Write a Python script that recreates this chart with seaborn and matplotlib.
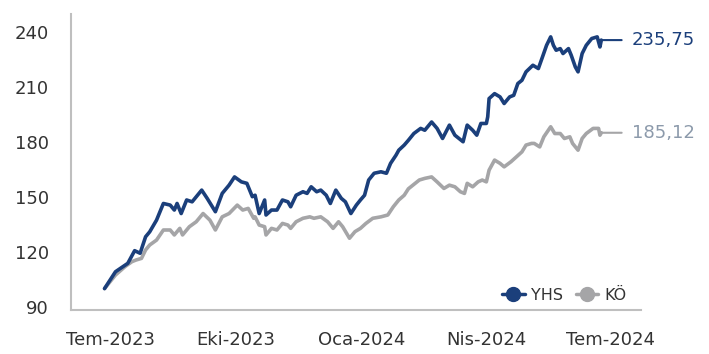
import matplotlib
matplotlib.use("Agg")
import matplotlib.pyplot as plt
from matplotlib.lines import Line2D
import numpy as np
import pandas as pd
import seaborn as sns

# ---- data ----
yhs_dates = ["2023-06-27", "2023-07-05", "2023-07-14", "2023-07-19", "2023-07-23", "2023-07-27",
             "2023-07-30", "2023-08-04", "2023-08-09", "2023-08-14", "2023-08-17", "2023-08-19",
             "2023-08-22", "2023-08-26", "2023-08-30", "2023-09-06", "2023-09-10", "2023-09-16",
             "2023-09-21", "2023-09-26", "2023-09-30", "2023-10-05", "2023-10-09", "2023-10-13",
             "2023-10-15", "2023-10-18", "2023-10-22", "2023-10-23", "2023-10-27", "2023-10-31",
             "2023-11-04", "2023-11-08", "2023-11-10", "2023-11-14", "2023-11-19", "2023-11-22",
             "2023-11-25", "2023-11-29", "2023-12-02", "2023-12-06", "2023-12-09", "2023-12-13",
             "2023-12-17", "2023-12-20", "2023-12-24", "2023-12-28", "2023-12-31", "2024-01-03",
             "2024-01-06", "2024-01-10", "2024-01-15", "2024-01-19", "2024-01-22", "2024-01-26",
             "2024-01-28", "2024-02-01", "2024-02-04", "2024-02-08", "2024-02-13", "2024-02-16",
             "2024-02-21", "2024-02-25", "2024-02-29", "2024-03-05", "2024-03-09", "2024-03-15",
             "2024-03-18", "2024-03-22", "2024-03-25", "2024-03-28", "2024-04-01", "2024-04-02",
             "2024-04-03", "2024-04-07", "2024-04-11", "2024-04-14", "2024-04-18", "2024-04-21",
             "2024-04-24", "2024-04-27", "2024-04-30", "2024-05-05", "2024-05-09", "2024-05-12",
             "2024-05-15", "2024-05-18", "2024-05-20", "2024-05-22", "2024-05-25", "2024-05-27",
             "2024-05-31", "2024-06-02", "2024-06-05", "2024-06-07", "2024-06-10", "2024-06-13",
             "2024-06-17", "2024-06-21", "2024-06-23", "2024-06-24"]
yhs_values = [100, 109.2, 113.8, 120.7, 119.3, 128.3,
              131, 137.4, 146.5, 145.6, 142.9, 146.5,
              141, 148.4, 147.4, 153.8, 149.3, 142,
              152, 156.5, 161, 158.3, 157.5, 150.2,
              151, 141, 148.4, 140.2, 142.9, 142.9,
              148.4, 147.4, 144.7, 151, 152.9, 152,
              155.6, 152.9, 153.8, 151, 146.5, 153.8,
              149.3, 147.4, 141, 145.6, 148.4, 151,
              159.3, 163, 163.8, 163, 168.4, 172.9,
              175.6, 178.4, 181, 184.7, 187.5, 186.5,
              191, 187.5, 182, 189.3, 183.8, 180.2,
              189.3, 186.5, 183.8, 190.2, 190.2, 193.8,
              203.8, 206.5, 204.7, 201.1, 204.7, 205.6,
              212, 213.8, 218.4, 222, 220.2, 226.5,
              232.9, 237.5, 232.9, 230.2, 231.1, 228.4,
              231.1, 227.5, 221.1, 218.4, 228.4, 232.9,
              236.6, 237.5, 232, 235.75]

ko_dates = ["2023-06-27", "2023-07-05", "2023-07-12", "2023-07-17", "2023-07-20", "2023-07-24",
            "2023-07-27", "2023-07-30", "2023-08-04", "2023-08-09", "2023-08-14", "2023-08-17",
            "2023-08-21", "2023-08-23", "2023-08-28", "2023-09-02", "2023-09-07", "2023-09-12",
            "2023-09-16", "2023-09-21", "2023-09-26", "2023-10-02", "2023-10-06", "2023-10-10",
            "2023-10-14", "2023-10-15", "2023-10-18", "2023-10-22", "2023-10-23", "2023-10-27",
            "2023-10-31", "2023-11-04", "2023-11-08", "2023-11-10", "2023-11-14", "2023-11-19",
            "2023-11-24", "2023-11-27", "2023-12-02", "2023-12-07", "2023-12-11", "2023-12-15",
            "2023-12-18", "2023-12-23", "2023-12-27", "2023-12-31", "2024-01-04", "2024-01-09",
            "2024-01-15", "2024-01-20", "2024-01-24", "2024-01-28", "2024-02-01", "2024-02-04",
            "2024-02-12", "2024-02-16", "2024-02-21", "2024-02-25", "2024-03-01", "2024-03-05",
            "2024-03-09", "2024-03-13", "2024-03-16", "2024-03-18", "2024-03-22", "2024-03-26",
            "2024-03-29", "2024-04-01", "2024-04-03", "2024-04-07", "2024-04-11", "2024-04-14",
            "2024-04-19", "2024-04-23", "2024-04-27", "2024-04-30", "2024-05-04", "2024-05-06",
            "2024-05-10", "2024-05-13", "2024-05-18", "2024-05-21", "2024-05-25", "2024-05-28",
            "2024-06-01", "2024-06-03", "2024-06-07", "2024-06-10", "2024-06-13", "2024-06-18",
            "2024-06-22", "2024-06-23", "2024-06-24"]
ko_values = [100, 107.4, 112, 114.7, 115.6, 116.5,
             121.1, 123.8, 126.5, 132, 132, 129.3,
             132.9, 129.3, 133.8, 136.5, 141, 137.4,
             132, 139.2, 141, 145.6, 142.9, 143.8,
             138.4, 139.2, 134.7, 133.8, 129.3, 132.9,
             132, 135.6, 134.7, 132.9, 136.5, 138.4,
             139.2, 138.4, 139.2, 136.5, 132.9, 136.5,
             133.8, 127.5, 131.1, 132.9, 135.6, 138.4,
             139.2, 140.2, 144.7, 148.4, 151, 154.5,
             159.3, 160.2, 161, 158.3, 154.7, 156.5,
             155.6, 152.9, 152, 157.5, 155.6, 158.3,
             159.3, 158.3, 164.7, 170.2, 168.4, 166.5,
             169.3, 172, 174.7, 178.4, 179.3, 179.3,
             177.4, 182.9, 188.4, 184.7, 184.7, 182,
             182.9, 179.3, 175.6, 182, 184.7, 187.5,
             187.5, 183.8, 185.12]

series_names = ["YHS", "KÖ"]
end_labels = ["235,75", "185,12"]
y_ticks = [90, 120, 150, 180, 210, 240]
x_tick_dates = ["2023-07-01", "2023-10-01", "2024-01-01", "2024-04-01", "2024-07-01"]
x_tick_labels = ["Tem-2023", "Eki-2023", "Oca-2024", "Nis-2024", "Tem-2024"]

# ---- styling ----
BLUE = "#1B3F7B"
GRAY = "#A5A5A7"
LABEL_GRAY = "#8C9AAB"
AXIS_GRAY = "#BFBFBF"
TEXT = "#333333"

sns.set_theme(style="white")
plt.rcParams["font.family"] = ["DejaVu Sans"]

df = pd.concat([
    pd.DataFrame({"date": pd.to_datetime(yhs_dates), "value": yhs_values, "series": series_names[0]}),
    pd.DataFrame({"date": pd.to_datetime(ko_dates), "value": ko_values, "series": series_names[1]}),
])

fig = plt.figure(figsize=(7.09, 3.54), dpi=100)
ax = fig.add_axes([71 / 709, 1 - 310 / 354, (641 - 71) / 709, (310 - 14) / 354])

palette = {series_names[0]: BLUE, series_names[1]: GRAY}
for name in [series_names[1], series_names[0]]:
    sub = df[df["series"] == name]
    sns.lineplot(data=sub, x="date", y="value", color=palette[name], lw=2.6,
                 ax=ax, legend=False, solid_joinstyle="round", solid_capstyle="round")

ax.set_xlim(pd.Timestamp("2023-06-02 12:00"), pd.Timestamp("2024-07-23"))
ax.set_ylim(88.3, 250)
ax.set_xlabel("")
ax.set_ylabel("")

ax.set_yticks(y_ticks)
ax.set_yticks(np.arange(90, 251, 10), minor=True)
major_x = pd.to_datetime(x_tick_dates)
ax.set_xticks(major_x)
ax.set_xticklabels(x_tick_labels)
minor_x = []
for a, b in zip(major_x[:-1], major_x[1:]):
    step = (b - a) / 5
    minor_x += [a + step * k for k in range(1, 5)]
step0 = (major_x[1] - major_x[0]) / 5
minor_x = [major_x[0] - step0] + minor_x + [major_x[-1] + step0]
ax.set_xticks(minor_x, minor=True)

for s in ["top", "right"]:
    ax.spines[s].set_visible(False)
for s in ["left", "bottom"]:
    ax.spines[s].set_color(AXIS_GRAY)
    ax.spines[s].set_linewidth(1.5)

ax.tick_params(axis="both", which="major", direction="out", length=7, width=1.3,
               color=AXIS_GRAY, labelcolor=TEXT, labelsize=13)
ax.tick_params(axis="both", which="minor", direction="out", length=4, width=1.3,
               color=AXIS_GRAY)
ax.tick_params(axis="y", which="major", pad=9)
ax.tick_params(axis="x", which="major", pad=8)

ends = [(yhs_dates[-1], yhs_values[-1], end_labels[0], BLUE, BLUE),
        (ko_dates[-1], ko_values[-1], end_labels[1], GRAY, LABEL_GRAY)]
for d, v, lab, lc, tc in ends:
    ax.annotate(lab, xy=(pd.Timestamp(d), v), xytext=(22, 0), textcoords="offset points",
                va="center", ha="left", fontsize=13, color=tc, annotation_clip=False,
                arrowprops=dict(arrowstyle="-", color=lc, lw=1.5, shrinkA=5, shrinkB=0))

handles = [Line2D([0], [0], color=BLUE, lw=2.5, marker="o", markersize=10),
           Line2D([0], [0], color=GRAY, lw=2.5, marker="o", markersize=10)]
ax.legend(handles, series_names, loc="lower right", bbox_to_anchor=(1.0, -0.025),
          ncol=2, frameon=False, fontsize=11.5, handlelength=1.4, handletextpad=0.4,
          columnspacing=0.8, labelcolor=TEXT)

fig.savefig("out.png", dpi=100)
